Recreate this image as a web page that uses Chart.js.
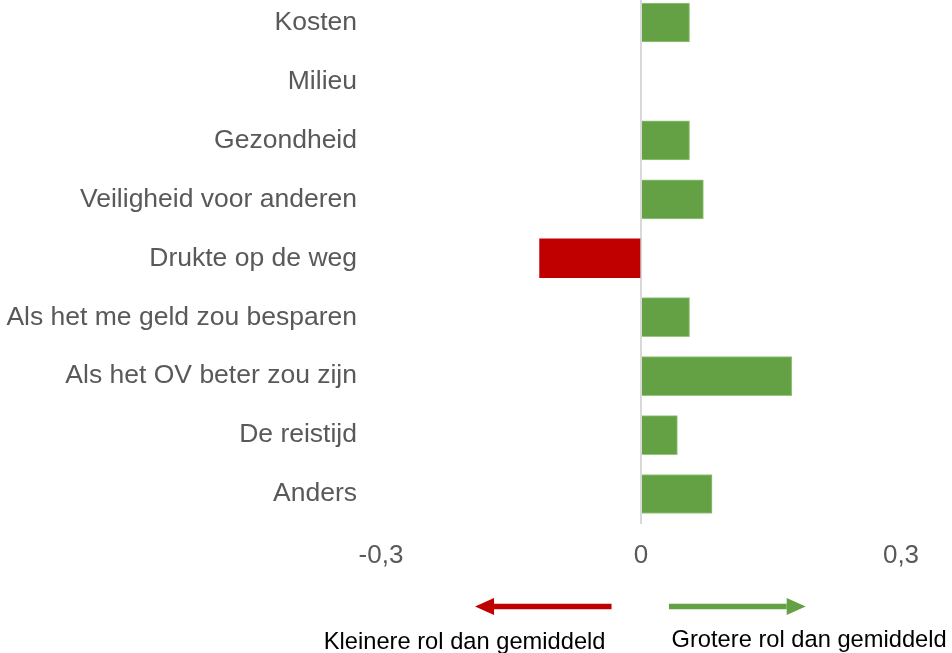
<!DOCTYPE html>
<html>
<head>
<meta charset="utf-8">
<script src="https://cdn.jsdelivr.net/npm/chart.js@4/dist/chart.umd.min.js"></script>
<style>
  html, body { margin: 0; padding: 0; background: #fff; overflow: hidden; }
  #wrap { position: relative; width: 952px; height: 653px; overflow: hidden; }
  #box { position: absolute; left: 0; top: -7px; width: 952px; height: 661px; }
</style>
</head>
<body>
<div id="wrap"><div id="box"><canvas id="c"></canvas></div></div>
<script>
const categories = [
  'Kosten',
  'Milieu',
  'Gezondheid',
  'Veiligheid voor anderen',
  'Drukte op de weg',
  'Als het me geld zou besparen',
  'Als het OV beter zou zijn',
  'De reistijd',
  'Anders'
];
const values = [0.056, 0, 0.056, 0.072, -0.117, 0.056, 0.174, 0.042, 0.082];
const xTickLabels = ['-0,3', '0', '0,3'];
const arrowLabels = ['Kleinere rol dan gemiddeld', 'Grotere rol dan gemiddeld'];

const GREEN = '#64A044';
const RED = '#C00000';
const FONT = "'Liberation Sans', Arial, sans-serif";

const arrowPlugin = {
  id: 'arrows',
  afterDraw(chart) {
    const ctx = chart.ctx;
    const xs = chart.scales.x;
    const base = chart.chartArea.bottom;
    const y = base + 83;
    function arrow(fromV, toV, color) {
      const x1 = xs.getPixelForValue(fromV);
      const x2 = xs.getPixelForValue(toV);
      const dir = Math.sign(x2 - x1);
      const headLen = 19, headHalf = 8.5, shaft = 5.5;
      ctx.save();
      ctx.fillStyle = color;
      ctx.fillRect(Math.min(x1, x2 - dir * headLen), y - shaft / 2, Math.abs(x2 - dir * headLen - x1), shaft);
      ctx.beginPath();
      ctx.moveTo(x2, y);
      ctx.lineTo(x2 - dir * headLen, y - headHalf);
      ctx.lineTo(x2 - dir * headLen, y + headHalf);
      ctx.closePath();
      ctx.fill();
      ctx.restore();
    }
    arrow(-0.034, -0.1915, RED);
    arrow(0.0323, 0.190, GREEN);
    ctx.save();
    ctx.font = '23.7px ' + FONT;
    ctx.fillStyle = '#000000';
    ctx.textBaseline = 'alphabetic';
    ctx.textAlign = 'center';
    ctx.fillText(arrowLabels[0], xs.getPixelForValue(-0.2035), base + 125);
    ctx.fillText(arrowLabels[1], xs.getPixelForValue(0.194), base + 123);
    ctx.restore();
  }
};

new Chart(document.getElementById('c'), {
  type: 'bar',
  data: {
    labels: categories,
    datasets: [{
      data: values,
      backgroundColor: values.map(v => v < 0 ? RED : GREEN),
      borderColor: values.map(v => v < 0 ? RED : '#95C77C'),
      borderWidth: values.map(v => v < 0 ? 0 : 1),
      barThickness: 39
    }]
  },
  options: {
    indexAxis: 'y',
    responsive: true,
    maintainAspectRatio: false,
    animation: false,
    layout: { padding: { top: 0, left: 0, right: 51, bottom: 0 } },
    plugins: { legend: { display: false }, tooltip: { enabled: false } },
    scales: {
      x: {
        min: -0.3,
        max: 0.3,
        border: { display: false },
        grid: {
          drawTicks: false,
          color: ctx => (ctx.tick && ctx.tick.value === 0) ? '#D9D9D9' : 'rgba(0,0,0,0)',
          lineWidth: 2
        },
        ticks: {
          stepSize: 0.3,
          padding: 17,
          color: '#595959',
          font: { family: FONT, size: 26 },
          maxRotation: 0,
          callback: (v, i) => xTickLabels[i]
        },
        afterFit: s => { s.height = 130.5; s.paddingLeft = 0; s.paddingRight = 0; }
      },
      y: {
        border: { display: false },
        grid: { display: false, drawTicks: false },
        ticks: {
          padding: 24,
          color: '#595959',
          font: { family: FONT, size: 26.5 }
        },
        afterFit: s => { s.width = 381; s.paddingTop = 0; s.paddingBottom = 0; }
      }
    }
  },
  plugins: [arrowPlugin]
});
</script>
</body>
</html>
